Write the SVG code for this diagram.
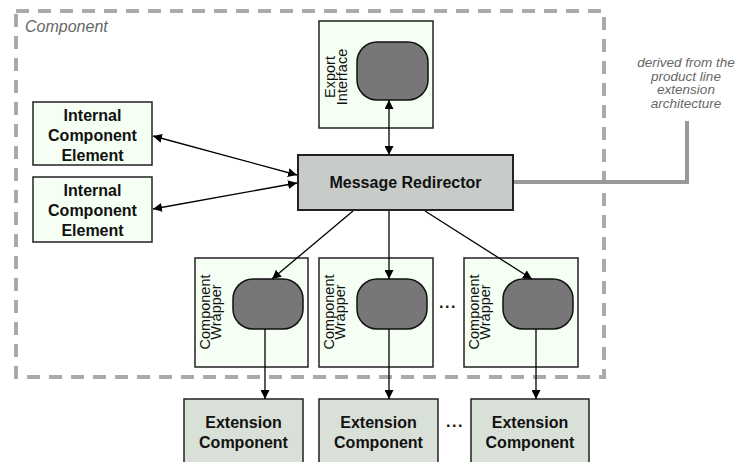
<svg xmlns="http://www.w3.org/2000/svg" width="745" height="462" viewBox="0 0 745 462">
<style>
  .bold { font-family: "Liberation Sans", Arial, sans-serif; font-weight: bold; font-size: 16px; fill: #111; text-anchor: middle; }
  .rot { font-family: "Liberation Sans", Arial, sans-serif; font-size: 14.5px; fill: #111; text-anchor: middle; }
  .ital { font-family: "Liberation Sans", Arial, sans-serif; font-style: italic; font-size: 16px; fill: #666; }
  .note { font-family: "Liberation Sans", Arial, sans-serif; font-style: italic; font-size: 13.5px; fill: #666; text-anchor: middle; }
  .light { fill: #f5fff3; stroke: #222; stroke-width: 1.5; }
  .ext { fill: #d9e0d8; stroke: #222; stroke-width: 1.5; }
  .redir { fill: #c8ccc8; stroke: #222; stroke-width: 2; }
  .pill { fill: #777; stroke: #111; stroke-width: 1.5; }
  .arr { stroke: #000; stroke-width: 1.3; fill: none; }
</style>
<defs>
  <marker id="ah" viewBox="0 0 10 10" refX="10" refY="5" markerWidth="9" markerHeight="9" markerUnits="userSpaceOnUse" orient="auto-start-reverse">
    <path d="M0,0 L10,5 L0,10 z" fill="#000"/>
  </marker>
</defs>
<rect width="745" height="462" fill="#fff"/>

<g id="component-boundary">
  <rect x="16" y="11" width="588" height="366" fill="none" stroke="#aaa" stroke-width="4" stroke-dasharray="13 9"/>
  <text class="ital" x="25" y="32">Component</text>
</g>

<g id="derived-note">
  <text class="note" x="686" y="67">derived from the</text>
  <text class="note" x="686" y="80.5">product line</text>
  <text class="note" x="686" y="94">extension</text>
  <text class="note" x="686" y="107.5">architecture</text>
</g>

<g id="export-interface">
  <rect class="light" x="319" y="21" width="114" height="107"/>
  <rect class="pill" x="357" y="42" width="71" height="58" rx="20" ry="20"/>
  <text class="rot" transform="translate(335,77) rotate(-90)">Export</text>
  <text class="rot" transform="translate(347,77) rotate(-90)">Interface</text>
</g>

<g id="internal-element-1">
  <rect class="light" x="33" y="102" width="119" height="63"/>
  <text class="bold" x="92.5" y="121">Internal</text>
  <text class="bold" x="92.5" y="141">Component</text>
  <text class="bold" x="92.5" y="161">Element</text>
</g>

<g id="internal-element-2">
  <rect class="light" x="33" y="177" width="119" height="65"/>
  <text class="bold" x="92.5" y="196">Internal</text>
  <text class="bold" x="92.5" y="216">Component</text>
  <text class="bold" x="92.5" y="236">Element</text>
</g>

<g id="message-redirector">
  <rect class="redir" x="298" y="155" width="215" height="55"/>
  <text class="bold" x="405.5" y="188">Message Redirector</text>
</g>

<g id="wrapper-1">
  <rect class="light" x="195" y="258" width="113" height="109"/>
  <rect class="pill" x="233" y="279" width="70" height="50" rx="20" ry="20"/>
  <text class="rot" transform="translate(210,312) rotate(-90)">Component</text>
  <text class="rot" transform="translate(221,312) rotate(-90)">Wrapper</text>
</g>

<g id="wrapper-2">
  <rect class="light" x="319" y="258" width="114" height="109"/>
  <rect class="pill" x="357" y="279" width="70" height="50" rx="20" ry="20"/>
  <text class="rot" transform="translate(334,312) rotate(-90)">Component</text>
  <text class="rot" transform="translate(345,312) rotate(-90)">Wrapper</text>
</g>

<g id="wrapper-dots">
  <text class="bold" x="448" y="308" letter-spacing="1.5" fill="#000">...</text>
</g>

<g id="wrapper-3">
  <rect class="light" x="464" y="258" width="114" height="109"/>
  <rect class="pill" x="503" y="279" width="70" height="50" rx="20" ry="20"/>
  <text class="rot" transform="translate(479,312) rotate(-90)">Component</text>
  <text class="rot" transform="translate(490,312) rotate(-90)">Wrapper</text>
</g>

<g id="extension-1">
  <rect class="ext" x="184" y="399" width="119" height="70"/>
  <text class="bold" x="243.5" y="428">Extension</text>
  <text class="bold" x="243.5" y="448">Component</text>
</g>

<g id="extension-2">
  <rect class="ext" x="319" y="399" width="119" height="70"/>
  <text class="bold" x="378.5" y="428">Extension</text>
  <text class="bold" x="378.5" y="448">Component</text>
</g>

<g id="extension-dots">
  <text class="bold" x="455" y="427" letter-spacing="1.5" fill="#000">...</text>
</g>

<g id="extension-3">
  <rect class="ext" x="471" y="399" width="118" height="70"/>
  <text class="bold" x="530" y="428">Extension</text>
  <text class="bold" x="530" y="448">Component</text>
</g>

<g id="connectors">
  <polyline points="514,182 687,182 687,121" fill="none" stroke="#999" stroke-width="4"/>
  <line class="arr" x1="389" y1="100" x2="389" y2="155" marker-start="url(#ah)" marker-end="url(#ah)"/>
  <line class="arr" x1="153" y1="136" x2="297" y2="175" marker-start="url(#ah)" marker-end="url(#ah)"/>
  <line class="arr" x1="153" y1="209" x2="297" y2="183" marker-start="url(#ah)" marker-end="url(#ah)"/>
  <line class="arr" x1="353" y1="211" x2="272" y2="279" marker-end="url(#ah)"/>
  <line class="arr" x1="389" y1="211" x2="389" y2="279" marker-end="url(#ah)"/>
  <line class="arr" x1="425" y1="211" x2="532" y2="279" marker-end="url(#ah)"/>
  <line class="arr" x1="265" y1="329" x2="265" y2="399" marker-end="url(#ah)"/>
  <line class="arr" x1="389" y1="329" x2="389" y2="399" marker-end="url(#ah)"/>
  <line class="arr" x1="536" y1="329" x2="536" y2="399" marker-end="url(#ah)"/>
</g>
</svg>
